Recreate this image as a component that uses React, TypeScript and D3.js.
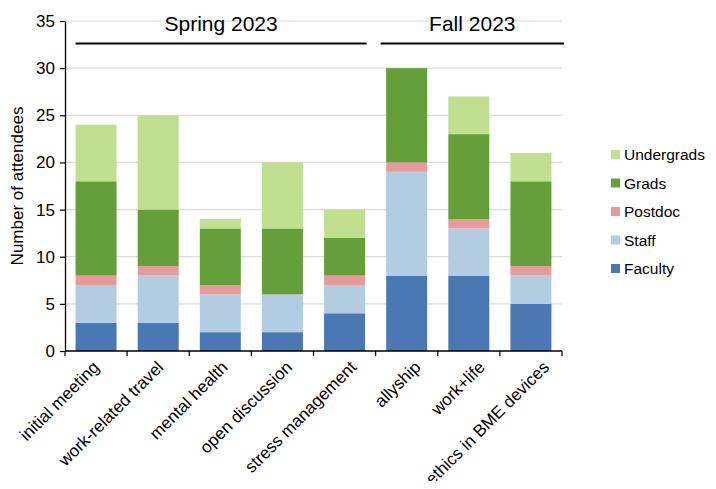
import React, { useEffect, useRef } from 'react';
import * as d3 from 'd3';

const categories = [
  'initial meeting',
  'work-related travel',
  'mental health',
  'open discussion',
  'stress management',
  'allyship',
  'work+life',
  'ethics in BME devices',
];

const seriesNames = ['Faculty', 'Staff', 'Postdoc', 'Grads', 'Undergrads'];

const faculty = [3, 3, 2, 2, 4, 8, 8, 5];
const staff = [4, 5, 4, 4, 3, 11, 5, 3];
const postdoc = [1, 1, 1, 0, 1, 1, 1, 1];
const grads = [10, 6, 6, 7, 4, 10, 9, 9];
const undergrads = [6, 10, 1, 7, 3, 0, 4, 3];

const yTicks = [0, 5, 10, 15, 20, 25, 30, 35];

const groups = [
  { label: 'Spring 2023', from: 0, to: 4 },
  { label: 'Fall 2023', from: 5, to: 7 },
];

const colors: Record<string, string> = {
  Faculty: '#4a78b3',
  Staff: '#b2cde2',
  Postdoc: '#e79a9b',
  Grads: '#649f3a',
  Undergrads: '#c1e08f',
};

export default function App() {
  const svgRef = useRef<SVGSVGElement>(null);

  useEffect(() => {
    if (!svgRef.current) return;
    d3.select(svgRef.current).selectAll('*').remove();

    const width = 716;
    const height = 489;
    const margin = { top: 21, left: 65, right: 154, bottom: 138 };
    const innerWidth = width - margin.left - margin.right;
    const innerHeight = height - margin.top - margin.bottom;
    const font = 'Liberation Sans, Arial, sans-serif';

    const svg = d3.select(svgRef.current)
      .attr('width', width)
      .attr('height', height)
      .style('font-family', font);

    const g = svg.append('g')
      .attr('transform', `translate(${margin.left},${margin.top})`);

    const rows = categories.map((c, i) => ({
      category: c,
      Faculty: faculty[i],
      Staff: staff[i],
      Postdoc: postdoc[i],
      Grads: grads[i],
      Undergrads: undergrads[i],
    }));

    const x = d3.scaleBand()
      .domain(categories)
      .range([0, innerWidth])
      .paddingInner(0.34)
      .paddingOuter(0.17);

    const y = d3.scaleLinear()
      .domain([0, 35])
      .range([innerHeight, 0]);

    // gridlines
    g.append('g')
      .selectAll('line')
      .data(yTicks.filter(t => t > 0))
      .enter()
      .append('line')
      .attr('x1', 0)
      .attr('x2', innerWidth)
      .attr('y1', d => y(d))
      .attr('y2', d => y(d))
      .attr('stroke', '#dcdcdc')
      .attr('stroke-width', 1.2);

    // stacked bars
    const stack = d3.stack<any>().keys(seriesNames);
    const layers = stack(rows);

    g.append('g')
      .selectAll('g')
      .data(layers)
      .enter()
      .append('g')
      .attr('fill', d => colors[d.key])
      .selectAll('rect')
      .data(d => d)
      .enter()
      .append('rect')
      .attr('x', d => x(d.data.category) as number)
      .attr('y', d => y(d[1]))
      .attr('width', x.bandwidth())
      .attr('height', d => y(d[0]) - y(d[1]));

    // y axis
    const yAxis = d3.axisLeft(y)
      .tickValues(yTicks)
      .tickSize(5)
      .tickSizeOuter(0)
      .tickPadding(5);

    const yG = g.append('g').call(yAxis);
    yG.select('.domain').attr('stroke', '#000').attr('stroke-width', 1.3);
    yG.selectAll('.tick line').attr('stroke', '#000').attr('stroke-width', 1.2);
    yG.selectAll('.tick text')
      .style('font-size', '17px')
      .style('font-family', font)
      .attr('fill', '#000');

    // x axis with ticks at band boundaries
    const step = x.step();
    const xG = g.append('g').attr('transform', `translate(0,${innerHeight})`);
    xG.append('line')
      .attr('x1', 0)
      .attr('x2', innerWidth)
      .attr('stroke', '#000')
      .attr('stroke-width', 1.5);
    xG.selectAll('line.tick')
      .data(d3.range(categories.length + 1))
      .enter()
      .append('line')
      .attr('class', 'tick')
      .attr('x1', d => d * step)
      .attr('x2', d => d * step)
      .attr('y1', 0)
      .attr('y2', 5)
      .attr('stroke', '#000')
      .attr('stroke-width', 1.2);

    // rotated labels drift slightly wider than the bars, as in the source
    const labelX = d3.scaleLinear()
      .domain([0, categories.length - 1])
      .range([31, 481]);

    xG.selectAll('text')
      .data(categories)
      .enter()
      .append('text')
      .attr('transform', (d, i) => `translate(${labelX(i)},13) rotate(-45)`)
      .attr('text-anchor', 'end')
      .attr('dy', '0.35em')
      .style('font-size', '17px')
      .attr('fill', '#000')
      .text(d => d);

    // y label
    svg.append('text')
      .attr('transform', `translate(23,${margin.top + innerHeight / 2}) rotate(-90)`)
      .attr('text-anchor', 'middle')
      .style('font-size', '17px')
      .attr('fill', '#000')
      .text('Number of attendees');

    // group headers
    groups.forEach(gr => {
      const x1 = (x(categories[gr.from]) as number);
      const lineStart = gr.from === 0 ? x1 : gr.from * step + 5;
      const lineEnd = gr.to === categories.length - 1 ? innerWidth + 2 : (gr.to + 1) * step - 9;
      g.append('line')
        .attr('x1', lineStart)
        .attr('x2', lineEnd)
        .attr('y1', 22.5)
        .attr('y2', 22.5)
        .attr('stroke', '#000')
        .attr('stroke-width', 2);
      g.append('text')
        .attr('x', (lineStart + lineEnd) / 2)
        .attr('y', 10)
        .attr('text-anchor', 'middle')
        .style('font-size', '21px')
        .attr('fill', '#000')
        .text(gr.label);
    });

    // legend
    const legendItems = [...seriesNames].reverse();
    const legend = svg.append('g').attr('transform', 'translate(611,155)');
    legendItems.forEach((name, i) => {
      const row = legend.append('g').attr('transform', `translate(0,${i * 28.5})`);
      row.append('rect')
        .attr('x', 0)
        .attr('y', -5)
        .attr('width', 9)
        .attr('height', 9)
        .attr('fill', colors[name]);
      row.append('text')
        .attr('x', 13)
        .attr('y', 0)
        .attr('dy', '0.35em')
        .style('font-size', '15.5px')
        .attr('fill', '#000')
        .text(name);
    });
  }, []);

  return <svg ref={svgRef} style={{ display: 'block', margin: '-8px' }} />;
}
